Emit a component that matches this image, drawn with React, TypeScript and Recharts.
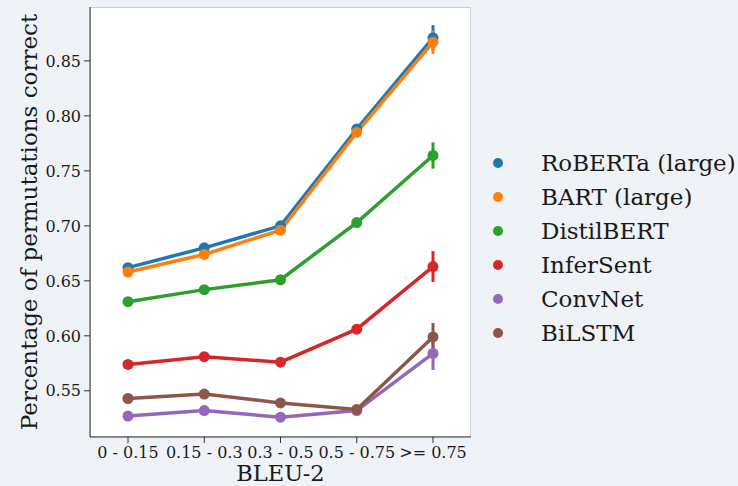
import { LineChart, Line, XAxis, YAxis, ErrorBar } from 'recharts';

const categories = ['0 - 0.15', '0.15 - 0.3', '0.3 - 0.5', '0.5 - 0.75', '>= 0.75'];

const roberta = [0.662, 0.680, 0.700, 0.788, 0.871];
const bart = [0.658, 0.674, 0.696, 0.785, 0.867];
const distilbert = [0.631, 0.642, 0.651, 0.703, 0.764];
const infersent = [0.574, 0.581, 0.576, 0.606, 0.663];
const convnet = [0.527, 0.532, 0.526, 0.532, 0.584];
const bilstm = [0.543, 0.547, 0.539, 0.533, 0.599];

// confidence interval half-widths (only the last bin is visibly wider than the markers)
const robertaErr = [0.003, 0.003, 0.003, 0.003, 0.0115];
const bartErr = [0.003, 0.003, 0.003, 0.003, 0.0106];
const distilbertErr = [0.003, 0.003, 0.003, 0.003, 0.012];
const infersentErr = [0.003, 0.003, 0.003, 0.003, 0.014];
const convnetErr = [0.003, 0.003, 0.003, 0.003, 0.015];
const bilstmErr = [0.003, 0.003, 0.003, 0.003, 0.0127];

const yTicks = [0.55, 0.6, 0.65, 0.7, 0.75, 0.8, 0.85];

const series = [
  { key: 'roberta', name: 'RoBERTa (large)', color: '#1f77b4', values: roberta, err: robertaErr },
  { key: 'bart', name: 'BART (large)', color: '#ff7f0e', values: bart, err: bartErr },
  { key: 'distilbert', name: 'DistilBERT', color: '#2ca02c', values: distilbert, err: distilbertErr },
  { key: 'infersent', name: 'InferSent', color: '#d62728', values: infersent, err: infersentErr },
  { key: 'convnet', name: 'ConvNet', color: '#9467bd', values: convnet, err: convnetErr },
  { key: 'bilstm', name: 'BiLSTM', color: '#8c564b', values: bilstm, err: bilstmErr },
];

const data = categories.map((cat, i) => {
  const row: Record<string, string | number> = { bin: cat };
  series.forEach(s => {
    row[s.key] = s.values[i];
    row[s.key + 'Err'] = s.err[i];
  });
  return row;
});

const FONT = '"DejaVu Serif", serif';

const LegendBox = () => (
  <div
    style={{
      position: 'absolute',
      left: 485,
      top: 146,
      fontFamily: FONT,
      fontSize: 23,
      color: '#1a1a1a',
      whiteSpace: 'nowrap',
    }}
  >
    {series.map(s => (
      <div key={s.key} style={{ display: 'flex', alignItems: 'center', height: 34 }}>
        <span
          style={{
            display: 'inline-block',
            width: 10,
            height: 10,
            borderRadius: 5,
            background: s.color,
            marginLeft: 8,
            marginRight: 38,
          }}
        />
        <span>{s.name}</span>
      </div>
    ))}
  </div>
);

export default function App() {
  return (
    <div
      style={{
        position: 'fixed',
        left: 0,
        top: 0,
        width: 738,
        height: 486,
        background: '#eff2f6',
      }}
    >
      <div
        style={{
          position: 'absolute',
          left: 90,
          top: 7,
          width: 381,
          height: 430,
          background: '#ffffff',
          border: '1px solid #cfcfcf',
          boxSizing: 'border-box',
        }}
      />
      <div style={{ position: 'absolute', left: 0, top: 0 }}>
        <LineChart
          width={738}
          height={486}
          data={data}
          margin={{ top: 7, right: 267, bottom: 0, left: 0 }}
        >
          <XAxis
            dataKey="bin"
            height={49}
            padding={{ left: 38, right: 38 }}
            tickSize={6}
            tickMargin={4}
            stroke="#333333"
            tick={{ fill: '#1a1a1a', fontSize: 16, fontFamily: FONT }}
            interval={0}
            label={{
              value: 'BLEU-2',
              position: 'insideBottom',
              offset: 5,
              fill: '#1a1a1a',
              fontSize: 22.5,
              fontFamily: FONT,
            }}
          />
          <YAxis
            width={90}
            domain={[0.508, 0.899]}
            ticks={yTicks}
            allowDataOverflow
            tickSize={6}
            tickMargin={3}
            stroke="#333333"
            tickFormatter={(v: number) => v.toFixed(2)}
            tick={{ fill: '#1a1a1a', fontSize: 16, fontFamily: FONT }}
            label={{
              value: 'Percentage of permutations correct',
              angle: -90,
              position: 'center',
              dx: -16,
              fill: '#1a1a1a',
              fontSize: 23,
              fontFamily: FONT,
            }}
          />
          {series.map(s => (
            <Line
              key={s.key}
              dataKey={s.key}
              name={s.name}
              stroke={s.color}
              strokeWidth={3.5}
              dot={{ r: 5.5, fill: s.color, stroke: s.color, strokeWidth: 0 }}
              activeDot={false}
              isAnimationActive={false}
            >
              <ErrorBar
                dataKey={s.key + 'Err'}
                direction="y"
                width={0}
                stroke={s.color}
                strokeWidth={3}
                isAnimationActive={false}
              />
            </Line>
          ))}
        </LineChart>
      </div>
      <LegendBox />
    </div>
  );
}
